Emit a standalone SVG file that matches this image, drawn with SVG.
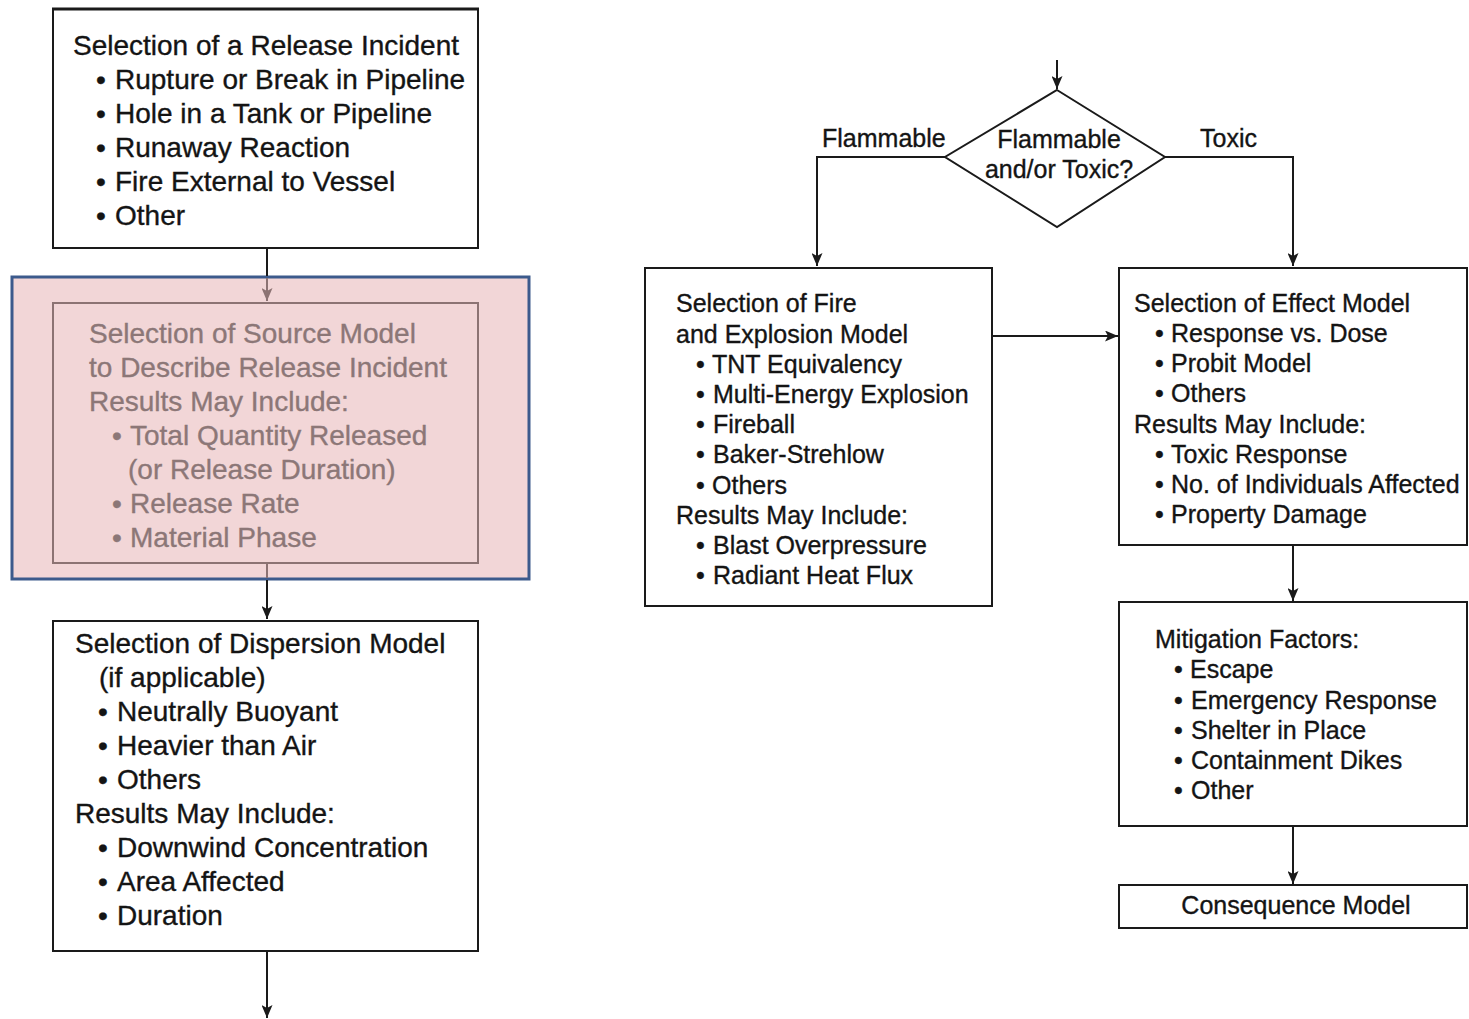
<svg xmlns="http://www.w3.org/2000/svg" width="1469" height="1019" viewBox="0 0 1469 1019">
<defs>
<style>
text{font-family:"Liberation Sans",Arial,sans-serif;fill:#141414;stroke:#141414;stroke-width:0.35}
.l{font-size:28px}
.r{font-size:25px}
.box{fill:#fff;stroke:#1a1a1a;stroke-width:2}
.g text{fill:#8c7777;stroke:#8c7777}
.c{fill:none;stroke:#1a1a1a;stroke-width:2}
</style>
<marker id="ah" markerUnits="userSpaceOnUse" viewBox="0 0 13 11" markerWidth="13" markerHeight="11" refX="13" refY="5.5" orient="auto">
<path d="M0,0 L13,5.5 L0,11 L3,5.5 z" fill="#1a1a1a"/>
</marker>
<marker id="ahg" markerUnits="userSpaceOnUse" viewBox="0 0 13 11" markerWidth="13" markerHeight="11" refX="13" refY="5.5" orient="auto">
<path d="M0,0 L13,5.5 L0,11 L3,5.5 z" fill="#8c7373"/>
</marker>
</defs>
<rect width="1469" height="1019" fill="#fff"/>

<g id="release-incident">
<rect class="box" x="53" y="9" width="425" height="239"/>
<line x1="52" y1="9" x2="479" y2="9" stroke="#1a1a1a" stroke-width="3"/>
<text class="l" x="73" y="55">Selection of a Release Incident</text>
<text class="l" x="96" y="89">•<tspan x="115">Rupture or Break in Pipeline</tspan></text>
<text class="l" x="96" y="123">•<tspan x="115">Hole in a Tank or Pipeline</tspan></text>
<text class="l" x="96" y="157">•<tspan x="115">Runaway Reaction</tspan></text>
<text class="l" x="96" y="191">•<tspan x="115">Fire External to Vessel</tspan></text>
<text class="l" x="96" y="225">•<tspan x="115">Other</tspan></text>
</g>

<g id="source-model" class="g">
<rect x="12" y="277" width="517" height="302" fill="#f2d6d7" stroke="#3c5a8c" stroke-width="3"/>
<rect x="53" y="303" width="425" height="260" fill="none" stroke="#8c7373" stroke-width="2"/>
<text class="l" x="89" y="343">Selection of Source Model</text>
<text class="l" x="89" y="377">to Describe Release Incident</text>
<text class="l" x="89" y="411">Results May Include:</text>
<text class="l" x="112" y="445">•<tspan x="130">Total Quantity Released</tspan></text>
<text class="l" x="128" y="479">(or Release Duration)</text>
<text class="l" x="112" y="513">•<tspan x="130">Release Rate</tspan></text>
<text class="l" x="112" y="547">•<tspan x="130">Material Phase</tspan></text>
</g>

<g id="dispersion-model">
<rect class="box" x="53" y="621" width="425" height="330"/>
<text class="l" x="75" y="653">Selection of Dispersion Model</text>
<text class="l" x="99" y="687">(if applicable)</text>
<text class="l" x="98" y="721">•<tspan x="117">Neutrally Buoyant</tspan></text>
<text class="l" x="98" y="755">•<tspan x="117">Heavier than Air</tspan></text>
<text class="l" x="98" y="789">•<tspan x="117">Others</tspan></text>
<text class="l" x="75" y="823">Results May Include:</text>
<text class="l" x="98" y="857">•<tspan x="117">Downwind Concentration</tspan></text>
<text class="l" x="98" y="891">•<tspan x="117">Area Affected</tspan></text>
<text class="l" x="98" y="925">•<tspan x="117">Duration</tspan></text>
</g>

<g id="decision">
<polygon points="1057,90 1165,157 1057,227 945,157" fill="#fff" stroke="#1a1a1a" stroke-width="2"/>
<text class="r" x="1059" y="148" text-anchor="middle">Flammable</text>
<text class="r" x="1059" y="178" text-anchor="middle">and/or Toxic?</text>
</g>

<g id="fire-explosion-model">
<rect class="box" x="645" y="268" width="347" height="338"/>
<text class="r" x="676" y="312">Selection of Fire</text>
<text class="r" x="676" y="343">and Explosion Model</text>
<text class="r" x="696" y="373">•<tspan x="712">TNT Equivalency</tspan></text>
<text class="r" x="696" y="403">•<tspan x="713">Multi-Energy Explosion</tspan></text>
<text class="r" x="696" y="433">•<tspan x="713">Fireball</tspan></text>
<text class="r" x="696" y="463">•<tspan x="713">Baker-Strehlow</tspan></text>
<text class="r" x="696" y="494">•<tspan x="712">Others</tspan></text>
<text class="r" x="676" y="524">Results May Include:</text>
<text class="r" x="696" y="554">•<tspan x="713">Blast Overpressure</tspan></text>
<text class="r" x="696" y="584">•<tspan x="713">Radiant Heat Flux</tspan></text>
</g>

<g id="effect-model">
<rect class="box" x="1119" y="268" width="348" height="277"/>
<text class="r" x="1134" y="312">Selection of Effect Model</text>
<text class="r" x="1155" y="342">•<tspan x="1171">Response vs. Dose</tspan></text>
<text class="r" x="1155" y="372">•<tspan x="1171">Probit Model</tspan></text>
<text class="r" x="1155" y="402">•<tspan x="1171">Others</tspan></text>
<text class="r" x="1134" y="433">Results May Include:</text>
<text class="r" x="1155" y="463">•<tspan x="1171">Toxic Response</tspan></text>
<text class="r" x="1155" y="493">•<tspan x="1171">No. of Individuals Affected</tspan></text>
<text class="r" x="1155" y="523">•<tspan x="1171">Property Damage</tspan></text>
</g>

<g id="mitigation-factors">
<rect class="box" x="1119" y="602" width="348" height="224"/>
<text class="r" x="1155" y="648">Mitigation Factors:</text>
<text class="r" x="1174" y="678">•<tspan x="1190">Escape</tspan></text>
<text class="r" x="1174" y="709">•<tspan x="1191">Emergency Response</tspan></text>
<text class="r" x="1174" y="739">•<tspan x="1191">Shelter in Place</tspan></text>
<text class="r" x="1174" y="769">•<tspan x="1191">Containment Dikes</tspan></text>
<text class="r" x="1174" y="799">•<tspan x="1191">Other</tspan></text>
</g>

<g id="consequence-model">
<rect class="box" x="1119" y="885" width="348" height="43"/>
<text class="r" x="1296" y="914" text-anchor="middle">Consequence Model</text>
</g>

<g id="connectors">
<line x1="267" y1="249" x2="267" y2="276" stroke="#1a1a1a" stroke-width="2"/>
<path d="M267,278 L267,301" fill="none" stroke="#8c7373" stroke-width="2" marker-end="url(#ahg)"/>
<line x1="267" y1="564" x2="267" y2="578" stroke="#8c7373" stroke-width="2"/>
<path class="c" d="M267,580 L267,619" marker-end="url(#ah)"/>
<path class="c" d="M267,952 L267,1018" marker-end="url(#ah)"/>
<path class="c" d="M1057,60 L1057,89" marker-end="url(#ah)"/>
<path class="c" d="M945,157 L817,157 L817,266" marker-end="url(#ah)"/>
<path class="c" d="M1165,157 L1293,157 L1293,266" marker-end="url(#ah)"/>
<path class="c" d="M993,336 L1118,336" marker-end="url(#ah)"/>
<path class="c" d="M1293,546 L1293,601" marker-end="url(#ah)"/>
<path class="c" d="M1293,827 L1293,884" marker-end="url(#ah)"/>
<text class="r" x="822" y="147">Flammable</text>
<text class="r" x="1200" y="147">Toxic</text>
</g>
</svg>
